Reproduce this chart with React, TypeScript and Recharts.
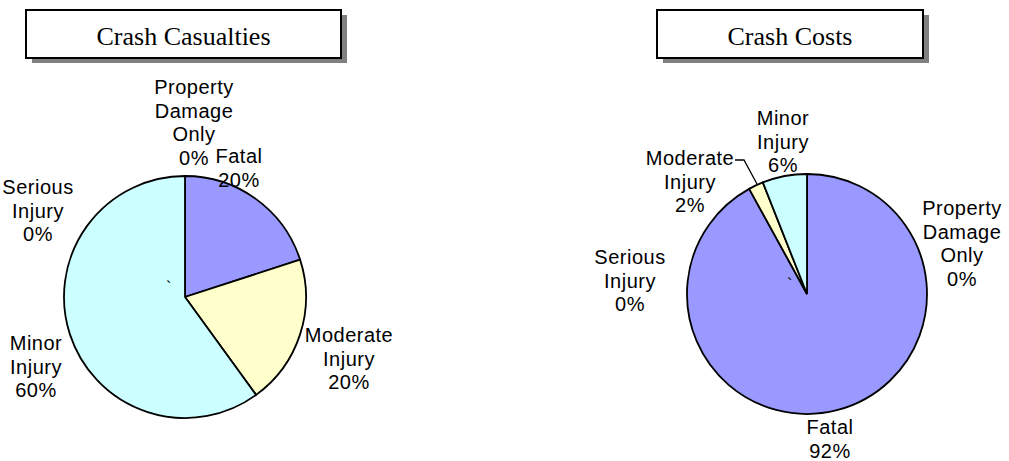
import React from 'react';
import { PieChart, Pie, Cell } from 'recharts';

const categories = ['Fatal', 'Serious Injury', 'Moderate Injury', 'Minor Injury', 'Property Damage Only'];
const casualtyValues = [20, 0, 20, 60, 0];
const costValues = [92, 0, 2, 6, 0];
const sliceColors = ['#9999FF', '#FFFFFF', '#FFFFCC', '#CCFFFF', '#FFFFFF'];
const labelLines: Record<string, string[]> = {
  'Fatal': ['Fatal'],
  'Serious Injury': ['Serious', 'Injury'],
  'Moderate Injury': ['Moderate', 'Injury'],
  'Minor Injury': ['Minor', 'Injury'],
  'Property Damage Only': ['Property', 'Damage', 'Only'],
};

const casualtyData = categories.map((name, i) => ({ name, value: casualtyValues[i] }));
const costData = categories.map((name, i) => ({ name, value: costValues[i] }));

// label layout (first-line centre) per chart
const casualtyLabelPos: Record<string, [number, number]> = {
  'Fatal': [239, 156],
  'Serious Injury': [38, 187],
  'Moderate Injury': [349, 335],
  'Minor Injury': [36, 343],
  'Property Damage Only': [194, 87],
};
const costLabelPos: Record<string, [number, number]> = {
  'Fatal': [830, 427],
  'Serious Injury': [630, 257],
  'Moderate Injury': [690, 158],
  'Minor Injury': [783, 118],
  'Property Damage Only': [962, 208],
};

const LINE_H = 23.5;
const labelFont = '"Liberation Sans", Arial, sans-serif';

const makeLabel = (pos: Record<string, [number, number]>) => (props: any) => {
  const name = categories[props.index];
  const [x, y] = pos[name];
  const lines = [...labelLines[name], `${Math.round(props.percent * 100)}%`];
  return (
    <text
      key={`lbl-${name}`}
      x={x}
      y={y}
      textAnchor="middle"
      dominantBaseline="central"
      fontFamily={labelFont}
      fontSize={20}
      letterSpacing={0.5}
      fill="#000"
    >
      {lines.map((l, i) => (
        <tspan key={i} x={x} y={y + i * LINE_H}>
          {l}
        </tspan>
      ))}
    </text>
  );
};

const TitleBox = ({ x, y, w, h, text }: { x: number; y: number; w: number; h: number; text: string }) => (
  <g>
    <rect x={x + 6} y={y + 5} width={w} height={h} fill="#808080" />
    <rect x={x} y={y} width={w} height={h} fill="#FFFFFF" stroke="#000" strokeWidth={2} />
    <text
      x={x + w / 2}
      y={y + 35}
      textAnchor="middle"
      fontFamily='"Liberation Serif", "Times New Roman", serif'
      fontSize={26}
      fill="#000"
    >
      {text}
    </text>
  </g>
);

export default function App() {
  return (
    <div style={{ position: 'fixed', left: 0, top: 0, width: 1009, height: 461, background: '#fff' }}>
      <PieChart width={1009} height={461} margin={{ top: 0, right: 0, bottom: 0, left: 0 }}>
        <Pie
          data={casualtyData}
          dataKey="value"
          nameKey="name"
          cx={185}
          cy={297}
          outerRadius={121}
          startAngle={90}
          endAngle={-270}
          stroke="#000"
          strokeWidth={1.8}
          isAnimationActive={false}
          label={makeLabel(casualtyLabelPos)}
          labelLine={false}
        >
          {casualtyData.map((d, i) => (
            <Cell key={d.name} fill={sliceColors[i]} />
          ))}
        </Pie>
        <Pie
          data={costData}
          dataKey="value"
          nameKey="name"
          cx={807}
          cy={294}
          outerRadius={120}
          startAngle={90}
          endAngle={-270}
          stroke="#000"
          strokeWidth={1.8}
          isAnimationActive={false}
          label={makeLabel(costLabelPos)}
          labelLine={false}
        >
          {costData.map((d, i) => (
            <Cell key={d.name} fill={sliceColors[i]} />
          ))}
        </Pie>
      </PieChart>
      <svg
        width={1009}
        height={461}
        style={{ position: 'absolute', left: 0, top: 0, pointerEvents: 'none' }}
      >
        <TitleBox x={26} y={10} w={315} h={48} text="Crash Casualties" />
        <TitleBox x={657} y={10} w={266} h={48} text="Crash Costs" />
        <polyline points="735,160 744,160 757,184" fill="none" stroke="#000" strokeWidth={1.3} />
        <text x={166} y={293} fontFamily={labelFont} fontSize={16} fill="#000">`</text>
        <text x={787} y={290} fontFamily={labelFont} fontSize={16} fill="#000">`</text>
      </svg>
    </div>
  );
}
